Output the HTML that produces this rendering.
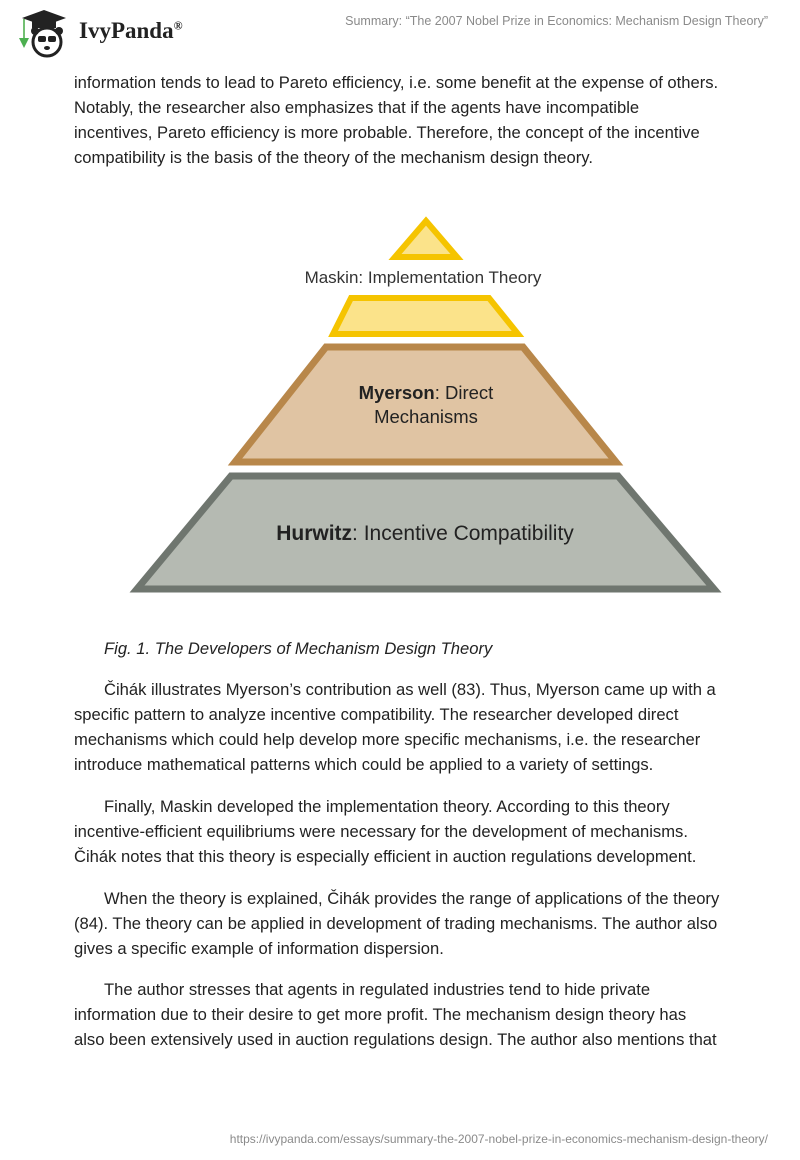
<!DOCTYPE html>
<html><head><meta charset="utf-8"><style>
body{margin:0;width:800px;height:1160px;background:#fff;position:relative;overflow:hidden;font-family:"Liberation Sans",sans-serif;}
.l{position:absolute;left:74px;font-size:16.6px;color:#222;white-space:nowrap;line-height:20px;}
.hdr{position:absolute;right:32px;top:14px;font-size:12.5px;color:#8a8a8a;}
.ftr{position:absolute;right:32px;top:1132px;font-size:12px;color:#8a8a8a;}
</style></head><body>
<svg style="position:absolute;left:14px;top:8px" width="60" height="50" viewBox="0 0 60 50">
<polygon points="8,10 30,2 52,10 30,18" fill="#222"/>
<rect x="18" y="12" width="24" height="8" fill="#222"/>
<line x1="10" y1="11" x2="10" y2="30" stroke="#4a4" stroke-width="1.5"/>
<path d="M5 30 l5 10 l5 -10 z" fill="#4caf50"/>
<circle cx="33" cy="34" r="14" fill="#fff" stroke="#222" stroke-width="3"/>
<circle cx="21" cy="23" r="4" fill="#222"/><circle cx="45" cy="23" r="4" fill="#222"/>
<rect x="24" y="28" width="8" height="6" rx="2" fill="#222"/><rect x="34" y="28" width="8" height="6" rx="2" fill="#222"/>
<ellipse cx="33" cy="40" rx="3" ry="2" fill="#222"/>
</svg>
<div style="position:absolute;left:79px;top:18px;font-family:'Liberation Serif',serif;font-weight:bold;font-size:23px;color:#222">IvyPanda<sup style="font-size:12px">®</sup></div>
<div class="hdr">Summary: “The 2007 Nobel Prize in Economics: Mechanism Design Theory”</div>

<div class="l" style="top:73px">information tends to lead to Pareto efficiency, i.e. some benefit at the expense of others.</div>
<div class="l" style="top:98px">Notably, the researcher also emphasizes that if the agents have incompatible</div>
<div class="l" style="top:123px">incentives, Pareto efficiency is more probable. Therefore, the concept of the incentive</div>
<div class="l" style="top:148px">compatibility is the basis of the theory of the mechanism design theory.</div>

<svg style="position:absolute;left:0;top:0" width="800" height="620">
<polygon points="426,221 457,257 395,257" fill="#fbe38a" stroke="#f5c400" stroke-width="6"/>
<polygon points="351,298 489,298 518,334 333,334" fill="#fbe38a" stroke="#f5c400" stroke-width="6"/>
<polygon points="326,347 523,347 616,462 235,462" fill="#e0c4a3" stroke="#b8874a" stroke-width="7"/>
<polygon points="231,476 618,476 714,589 137,589" fill="#b5bab2" stroke="#6f766f" stroke-width="7"/>
<g font-family="Liberation Sans, sans-serif" fill="#222" text-anchor="middle">
<text x="423" y="283" font-size="17" fill="#333">Maskin: Implementation Theory</text>
<text x="426" y="399" font-size="18.5"><tspan font-weight="bold">Myerson</tspan>: Direct</text>
<text x="426" y="423" font-size="18.5">Mechanisms</text>
<text x="425" y="540" font-size="21"><tspan font-weight="bold">Hurwitz</tspan>: Incentive Compatibility</text>
</g>
</svg>

<div class="l" style="top:639px;left:104px;font-style:italic">Fig. 1. The Developers of Mechanism Design Theory</div>

<div class="l" style="top:680px;left:104px">Čihák illustrates Myerson’s contribution as well (83). Thus, Myerson came up with a</div>
<div class="l" style="top:705px">specific pattern to analyze incentive compatibility. The researcher developed direct</div>
<div class="l" style="top:730px">mechanisms which could help develop more specific mechanisms, i.e. the researcher</div>
<div class="l" style="top:755px">introduce mathematical patterns which could be applied to a variety of settings.</div>

<div class="l" style="top:797px;left:104px">Finally, Maskin developed the implementation theory. According to this theory</div>
<div class="l" style="top:822px">incentive-efficient equilibriums were necessary for the development of mechanisms.</div>
<div class="l" style="top:847px">Čihák notes that this theory is especially efficient in auction regulations development.</div>

<div class="l" style="top:889px;left:104px">When the theory is explained, Čihák provides the range of applications of the theory</div>
<div class="l" style="top:914px">(84). The theory can be applied in development of trading mechanisms. The author also</div>
<div class="l" style="top:939px">gives a specific example of information dispersion.</div>

<div class="l" style="top:980px;left:104px">The author stresses that agents in regulated industries tend to hide private</div>
<div class="l" style="top:1005px">information due to their desire to get more profit. The mechanism design theory has</div>
<div class="l" style="top:1030px">also been extensively used in auction regulations design. The author also mentions that</div>

<div class="ftr">https://ivypanda.com/essays/summary-the-2007-nobel-prize-in-economics-mechanism-design-theory/</div>
</body></html>
